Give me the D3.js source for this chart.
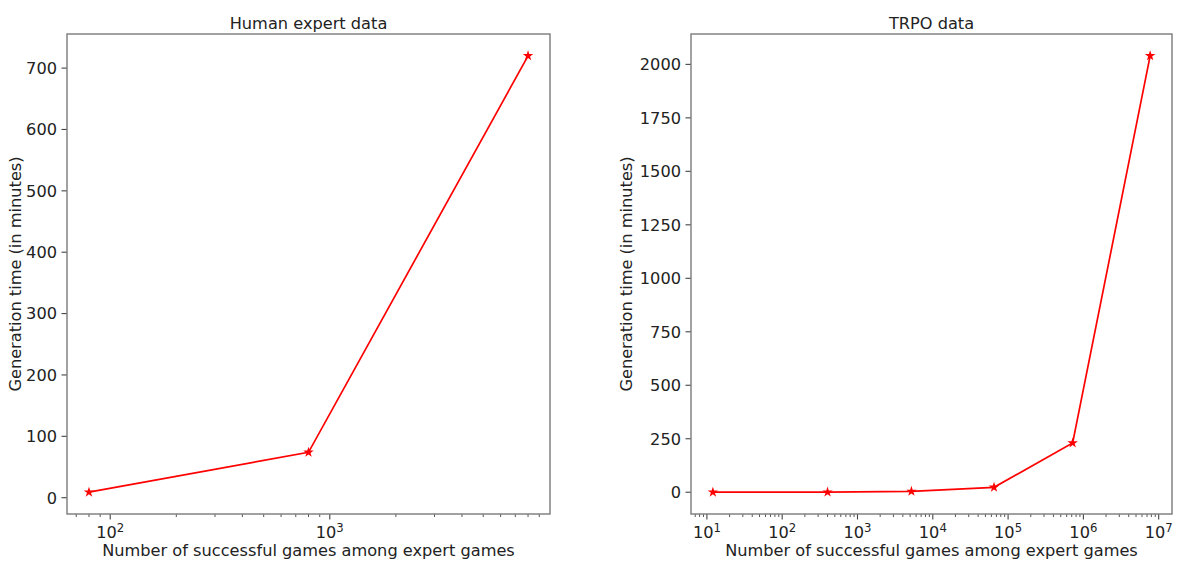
<!DOCTYPE html>
<html>
<head>
<meta charset="utf-8">
<script src="https://cdn.jsdelivr.net/npm/d3@7"></script>
<style>
  body { margin: 0; background: #fff; }
  text { font-family: "DejaVu Sans", sans-serif; fill: #222; }
</style>
</head>
<body>
<div id="chart"></div>
<script>
// values
var humanGames = [80, 800, 8000];
var humanTime = [9, 74, 720];
var humanYTicks = [0, 100, 200, 300, 400, 500, 600, 700];
var humanXTicks = [2, 3];   // powers of ten

var trpoGames = [12, 400, 5200, 65000, 720000, 7700000];
var trpoTime = [0.2, 0.5, 4, 23, 230, 2040];
var trpoYTicks = [0, 250, 500, 750, 1000, 1250, 1500, 1750, 2000];
var trpoXTicks = [1, 2, 3, 4, 5, 6, 7];

var titles = ["Human expert data", "TRPO data"];
var xLabel = "Number of successful games among expert games";
var yLabel = "Generation time (in minutes)";

var W = 1178, H = 564;
var fs = 16.2;

var svg = d3.select("#chart").append("svg")
    .attr("width", W)
    .attr("height", H);

// matplotlib style 5% margins
function logDomain(vals) {
    var lo = Math.log10(d3.min(vals)), hi = Math.log10(d3.max(vals));
    var m = (hi - lo) * 0.05;
    return [Math.pow(10, lo - m), Math.pow(10, hi + m)];
}
function linDomain(vals) {
    var lo = d3.min(vals), hi = d3.max(vals);
    var m = (hi - lo) * 0.05;
    return [lo - m, hi + m];
}

function panel(box, xs, ys, xTicks, yTicks, title, yLabelX) {
    var x = d3.scaleLog().domain(logDomain(xs)).range([box.left, box.right]);
    var y = d3.scaleLinear().domain(linDomain(ys)).range([box.bottom, box.top]);
    var g = svg.append("g");

    // minor ticks on the log axis
    var d = x.domain(), minor = [];
    for (var e = Math.floor(Math.log10(d[0])); e <= Math.ceil(Math.log10(d[1])); e++) {
        for (var k = 2; k <= 9; k++) {
            var v = k * Math.pow(10, e);
            if (v >= d[0] && v <= d[1]) minor.push(v);
        }
    }
    g.selectAll(".minor").data(minor).enter().append("line")
        .attr("x1", function (v) { return x(v); })
        .attr("x2", function (v) { return x(v); })
        .attr("y1", box.bottom)
        .attr("y2", box.bottom + 3)
        .attr("stroke", "#444")
        .attr("stroke-width", 0.9);

    // major x ticks
    var xt = g.selectAll(".xt").data(xTicks).enter().append("g")
        .attr("transform", function (p) { return "translate(" + x(Math.pow(10, p)) + "," + box.bottom + ")"; });
    xt.append("line").attr("y2", 5.5).attr("stroke", "#444").attr("stroke-width", 1.1);
    var xtText = xt.append("text")
        .attr("y", 24)
        .attr("text-anchor", "middle")
        .style("font-size", fs + "px");
    xtText.append("tspan").text("10");
    xtText.append("tspan").attr("dy", -6).style("font-size", (fs * 0.72) + "px")
        .text(function (p) { return p; });

    // y ticks
    var yt = g.selectAll(".yt").data(yTicks).enter().append("g")
        .attr("transform", function (v) { return "translate(" + box.left + "," + y(v) + ")"; });
    yt.append("line").attr("x2", -5.5).attr("stroke", "#444").attr("stroke-width", 1.1);
    yt.append("text")
        .attr("x", -10)
        .attr("dy", "0.36em")
        .attr("text-anchor", "end")
        .style("font-size", fs + "px")
        .text(function (v) { return v; });

    // frame
    g.append("rect")
        .attr("x", box.left).attr("y", box.top)
        .attr("width", box.right - box.left).attr("height", box.bottom - box.top)
        .attr("fill", "none")
        .attr("stroke", "#7a7a7a")
        .attr("stroke-width", 1.4);

    // line + star markers
    var pts = xs.map(function (v, i) { return [v, ys[i]]; });
    g.append("path")
        .datum(pts)
        .attr("fill", "none")
        .attr("stroke", "#ff0000")
        .attr("stroke-width", 1.7)
        .attr("d", d3.line().x(function (p) { return x(p[0]); }).y(function (p) { return y(p[1]); }));
    g.selectAll(".mk").data(pts).enter().append("path")
        .attr("transform", function (p) { return "translate(" + x(p[0]) + "," + y(p[1]) + ")"; })
        .attr("d", d3.symbol().type(d3.symbolStar).size(34))
        .attr("fill", "#ff0000");

    // texts
    var cx = (box.left + box.right) / 2;
    g.append("text")
        .attr("x", cx).attr("y", 29)
        .attr("text-anchor", "middle")
        .style("font-size", fs + "px")
        .text(title);
    g.append("text")
        .attr("x", cx).attr("y", 556)
        .attr("text-anchor", "middle")
        .style("font-size", fs + "px")
        .text(xLabel);
    g.append("text")
        .attr("transform", "translate(" + yLabelX + "," + (box.top + box.bottom) / 2 + ") rotate(-90)")
        .attr("text-anchor", "middle")
        .style("font-size", fs + "px")
        .text(yLabel);
}

panel({ left: 67, right: 550, top: 34, bottom: 514 }, humanGames, humanTime,
    humanXTicks, humanYTicks, titles[0], 21);
panel({ left: 691, right: 1172, top: 34, bottom: 514 }, trpoGames, trpoTime,
    trpoXTicks, trpoYTicks, titles[1], 632);
</script>
</body>
</html>
